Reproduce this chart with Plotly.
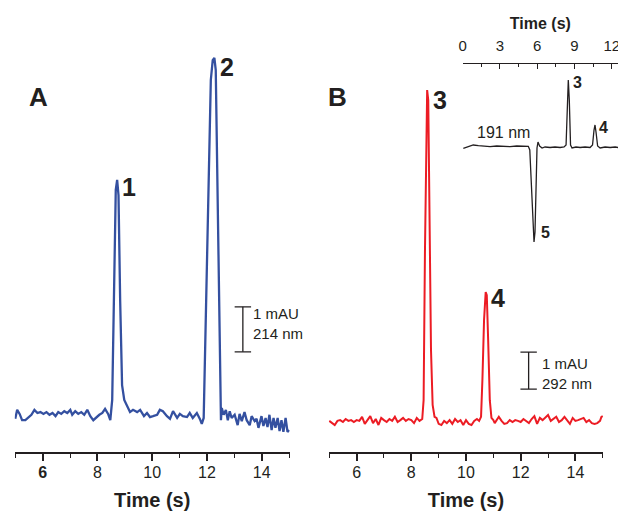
import plotly.graph_objects as go

# ---------------- data ----------------
# Panel A, 214 nm (time in s, signal in mAU)
a_time = [5.00, 5.07, 5.16, 5.25, 5.37, 5.48, 5.59, 5.70, 5.81, 5.92, 6.03, 6.14, 6.25, 6.36, 6.47,
          6.57, 6.68, 6.79, 6.90, 7.01, 7.08, 7.19, 7.30, 7.41, 7.52, 7.63, 7.74, 7.85, 7.96, 8.07,
          8.18, 8.28, 8.39, 8.47, 8.54, 8.61, 8.67, 8.72, 8.77, 8.83, 8.90, 8.98, 9.08, 9.19, 9.30,
          9.45, 9.56, 9.70, 9.81, 9.92, 10.03, 10.18, 10.28, 10.39, 10.54, 10.65, 10.76, 10.91, 11.01,
          11.12, 11.27, 11.37, 11.48, 11.63, 11.74, 11.81, 11.88, 11.97, 12.07, 12.14, 12.21, 12.27,
          12.32, 12.39, 12.47, 12.51, 12.54, 12.61, 12.69, 12.76, 12.83, 12.90, 13.01, 13.12, 13.19,
          13.27, 13.37, 13.45, 13.56, 13.63, 13.74, 13.81, 13.88, 13.99, 14.06, 14.14, 14.21, 14.28,
          14.36, 14.43, 14.50, 14.58, 14.65, 14.72, 14.79, 14.87, 14.94, 15.00]
a_signal = [-0.13, 0.07, -0.02, -0.16, -0.16, -0.09, -0.04, 0.07, 0.00, 0.02, -0.02, 0.02, -0.04, 0.00, -0.07,
            0.02, -0.02, 0.04, 0.00, 0.07, -0.04, 0.04, -0.02, 0.02, -0.04, 0.07, -0.07, -0.16, -0.09, -0.04,
            0.00, 0.09, -0.02, -0.16, 0.29, 3.40, 4.96, 5.18, 4.84, 2.51, 0.62, 0.29, 0.16, 0.02, 0.07,
            0.02, 0.07, -0.07, 0.00, -0.09, -0.07, -0.04, 0.07, 0.04, -0.07, -0.13, 0.04, -0.11, -0.02,
            -0.07, -0.09, 0.00, -0.11, 0.00, -0.13, -0.24, -0.11, 2.51, 5.84, 7.40, 7.84, 7.89,
            7.62, 4.73, 0.73, -0.16, 0.11, -0.04, 0.07, -0.16, 0.04, -0.11, -0.04, -0.27, -0.02,
            -0.18, 0.02, -0.16, -0.27, -0.07, -0.18, -0.13, -0.33, -0.07, -0.29, -0.11, -0.31, -0.04,
            -0.38, -0.11, -0.33, -0.11, -0.40, -0.16, -0.42, -0.11, -0.42, -0.38]

# Panel B, 292 nm
b_time = [5.00, 5.10, 5.20, 5.30, 5.40, 5.50, 5.60, 5.70, 5.80, 5.90, 6.00, 6.10, 6.20, 6.30, 6.40,
          6.50, 6.60, 6.70, 6.80, 6.90, 7.00, 7.10, 7.20, 7.30, 7.40, 7.50, 7.60, 7.70, 7.80, 7.90,
          8.00, 8.10, 8.20, 8.30, 8.40, 8.45, 8.50, 8.55, 8.58, 8.62, 8.67, 8.72, 8.78, 8.85, 8.92,
          9.00, 9.10, 9.20, 9.30, 9.40, 9.50, 9.60, 9.70, 9.80, 9.90, 10.00, 10.10, 10.20, 10.30,
          10.40, 10.48, 10.55, 10.60, 10.66, 10.72, 10.76, 10.81, 10.87, 10.93, 11.00, 11.05, 11.12,
          11.20, 11.30, 11.40, 11.50, 11.60, 11.70, 11.80, 11.90, 12.00, 12.10, 12.20, 12.30, 12.40,
          12.50, 12.60, 12.70, 12.80, 12.90, 13.00, 13.10, 13.20, 13.30, 13.40, 13.50, 13.60, 13.70,
          13.80, 13.90, 14.00, 14.10, 14.20, 14.30, 14.40, 14.50, 14.60, 14.70, 14.80, 14.90, 14.95, 15.00]
b_signal = [0.03, -0.03, -0.08, 0.03, 0.05, 0.00, 0.08, 0.03, 0.05, 0.00, 0.05, 0.03, 0.14, -0.05, 0.05,
            0.16, -0.03, 0.08, -0.08, 0.11, 0.05, 0.00, 0.08, 0.03, 0.14, 0.00, 0.05, 0.11, 0.03, 0.08,
            0.05, -0.03, 0.11, 0.03, 0.08, 0.59, 4.65, 8.43, 8.97, 8.70, 6.00, 1.95, 0.46, 0.14, 0.11,
            -0.05, -0.08, 0.03, -0.03, 0.05, -0.05, 0.08, 0.00, 0.05, -0.08, 0.05, -0.05, -0.08, 0.03,
            0.08, 0.03, 0.14, 1.14, 2.76, 3.51, 3.43, 2.22, 0.59, 0.11, 0.05, -0.03, 0.05,
            0.14, 0.03, -0.05, -0.03, 0.05, 0.00, 0.05, 0.03, 0.00, 0.08, 0.03, -0.03, 0.08,
            0.16, -0.05, 0.11, 0.05, 0.11, 0.19, 0.03, 0.08, 0.14, 0.00, 0.05, 0.14, 0.03,
            -0.05, 0.11, 0.03, 0.05, 0.08, 0.11, 0.00, 0.05, -0.03, -0.05, -0.03, 0.03, 0.14, 0.16]

# Inset, 191 nm (arbitrary units)
c_time = [0.05, 0.59, 0.85, 1.26, 1.66, 2.20, 2.74, 3.27, 3.81, 4.35, 4.88, 5.28, 5.40, 5.54, 5.66,
          5.74, 5.82, 5.90, 5.98, 6.06, 6.19, 6.39, 6.63, 7.03, 7.43, 7.84, 8.16, 8.32, 8.42, 8.50,
          8.58, 8.68, 8.80, 9.12, 9.45, 9.85, 10.25, 10.45, 10.57, 10.65, 10.73, 10.86, 11.06, 11.46,
          11.87, 12.27, 12.50]
c_signal = [-0.03, 0.20, 0.30, 0.23, 0.20, 0.13, 0.20, 0.13, 0.13, 0.20, 0.17, 0.17, -0.20, -4.20, -8.40,
            -9.40, -8.40, -3.20, 0.00, 0.60, 0.20, 0.00, 0.10, 0.05, 0.10, 0.05, 0.10, 0.30, 4.80, 6.80,
            4.80, 0.30, 0.00, 0.10, 0.05, 0.10, 0.05, 0.30, 1.80, 2.30, 1.60, 0.20, 0.00, 0.10,
            0.05, 0.10, 0.05]

main_major_ticks = [6, 8, 10, 12, 14]
a_tick_text = ["<b>6</b>", "8", "10", "12", "14"]
b_tick_text = ["6", "8", "10", "12", "14"]
main_minor_ticks = [5, 7, 9, 11, 13, 15]
inset_major_ticks = [0, 3, 6, 9, 12]
inset_minor_ticks = [1.5, 4.5, 7.5, 10.5]

# ---------------- layout helpers ----------------
W, H = 618, 511
FONT = "Liberation Sans, Arial, Helvetica, sans-serif"
BLUE = "#3450A0"
RED = "#EC1C24"
INK = "#231F20"

def px(x):
    return x / W

def py(y):
    return 1 - y / H

fig = go.Figure()
fig.add_trace(go.Scatter(x=a_time, y=a_signal, mode="lines",
                         line=dict(color=BLUE, width=2.3), xaxis="x", yaxis="y",
                         showlegend=False, hoverinfo="skip"))
fig.add_trace(go.Scatter(x=b_time, y=b_signal, mode="lines",
                         line=dict(color=RED, width=2), xaxis="x2", yaxis="y2",
                         showlegend=False, hoverinfo="skip"))
fig.add_trace(go.Scatter(x=c_time, y=c_signal, mode="lines",
                         line=dict(color=INK, width=1.3), xaxis="x3", yaxis="y3",
                         showlegend=False, hoverinfo="skip"))

# scale bars (1 mAU tall, in data units of each panel)
def scale_bar(xref, yref, t, y0, cap):
    for shp in [dict(x0=t, x1=t, y0=y0, y1=y0 + 1),
                dict(x0=t - cap, x1=t + cap, y0=y0, y1=y0),
                dict(x0=t - cap, x1=t + cap, y0=y0 + 1, y1=y0 + 1)]:
        fig.add_shape(type="line", xref=xref, yref=yref, line=dict(color=INK, width=1.3), **shp)

scale_bar("x", "y", 13.31, 1.36, 0.30)
scale_bar("x2", "y2", 12.29, 0.89, 0.30)

def main_axis(dom, ticktext, title):
    return dict(domain=dom, range=[4.98, 15.02], anchor="free", position=py(453),
                automargin=False,
                showline=True, linecolor=INK, linewidth=1.5, showgrid=False, zeroline=False,
                tickmode="array", tickvals=main_major_ticks, ticktext=ticktext,
                ticks="outside", ticklen=7, tickwidth=1.5, tickcolor=INK,
                minor=dict(tickmode="array", tickvals=main_minor_ticks, ticks="outside",
                           ticklen=4, tickwidth=1.3, tickcolor=INK),
                ticklabelstandoff=-2,
                tickfont=dict(family=FONT, size=16, color=INK),
                title=dict(text=f"<b>{title}</b>", font=dict(family=FONT, size=20, color=INK),
                           standoff=16))

fig.update_layout(
    width=W, height=H,
    margin=dict(l=0, r=0, t=0, b=0, autoexpand=False),
    paper_bgcolor="white", plot_bgcolor="rgba(0,0,0,0)",
    xaxis=main_axis([px(14.7), px(289.7)], a_tick_text, "Time (s)"),
    xaxis2=main_axis([px(328.7), px(603.3)], b_tick_text, "Time (s)"),
    xaxis3=dict(domain=[px(462.7), 1.0], range=[0, 12.5], side="top", anchor="free",
                position=py(63), automargin=False, showline=True, linecolor=INK, linewidth=1.3,
                showgrid=False, zeroline=False,
                tickmode="array", tickvals=inset_major_ticks,
                ticks="inside", ticklen=5, tickwidth=1.2, tickcolor=INK,
                minor=dict(tickmode="array", tickvals=inset_minor_ticks, ticks="inside",
                           ticklen=3, tickwidth=1.1, tickcolor=INK),
                ticklabelstandoff=6, ticklabeloverflow="allow",
                tickfont=dict(family=FONT, size=15, color=INK),
                title=dict(text="<b>Time (s)</b>", font=dict(family=FONT, size=16, color=INK),
                           standoff=2)),
    yaxis=dict(domain=[0, 1], range=[-(H - 413) / 45, 413 / 45], visible=False, anchor="x",
               automargin=False),
    yaxis2=dict(domain=[0, 1], range=[-(H - 422) / 37, 422 / 37], visible=False, anchor="x2",
                automargin=False),
    yaxis3=dict(domain=[py(250), py(70)], range=[-10.2, 7.8], visible=False, anchor="x3",
                automargin=False),
)

def txt(xref, yref, x, y, s, size, bold=True, xanchor="center", xs=0, ys=0):
    fig.add_annotation(xref=xref, yref=yref, x=x, y=y, text=f"<b>{s}</b>" if bold else s,
                       showarrow=False, xanchor=xanchor, yanchor="middle", xshift=xs, yshift=ys,
                       font=dict(family=FONT, size=size, color=INK))

# panel letters
txt("paper", "paper", px(38), py(97), "A", 26)
txt("paper", "paper", px(337), py(97), "B", 26)
# peak labels (placed next to peak apexes)
txt("x", "y", 8.72, 5.18, "1", 25, xanchor="left", xs=3, ys=-7)
txt("x", "y", 12.27, 7.89, "2", 25, xanchor="left", xs=4, ys=-9)
txt("x2", "y2", 8.58, 8.97, "3", 25, xanchor="left", xs=4, ys=-10)
txt("x2", "y2", 10.72, 3.51, "4", 25, xanchor="left", xs=3, ys=-6)
txt("x3", "y3", 8.50, 6.80, "3", 16, xanchor="left", xs=3, ys=-2)
txt("x3", "y3", 10.65, 2.30, "4", 16, xanchor="left", xs=2, ys=-2)
txt("x3", "y3", 5.74, -9.40, "5", 16, xanchor="left", xs=5, ys=10)
txt("x3", "y3", 3.3, 1.6, "191 nm", 16, bold=False)
# scale bar labels
fig.add_annotation(xref="x", yref="y", x=13.62, y=2.0, text="1 mAU<br>214 nm", showarrow=False,
                   xanchor="left", yanchor="middle", align="left",
                   font=dict(family=FONT, size=15, color=INK))
fig.add_annotation(xref="x2", yref="y2", x=12.70, y=1.32, text="1 mAU<br>292 nm", showarrow=False,
                   xanchor="left", yanchor="middle", align="left",
                   font=dict(family=FONT, size=15, color=INK))

fig.write_html("out.html", config={"displayModeBar": False},
               post_script="document.body.style.margin='0';")
